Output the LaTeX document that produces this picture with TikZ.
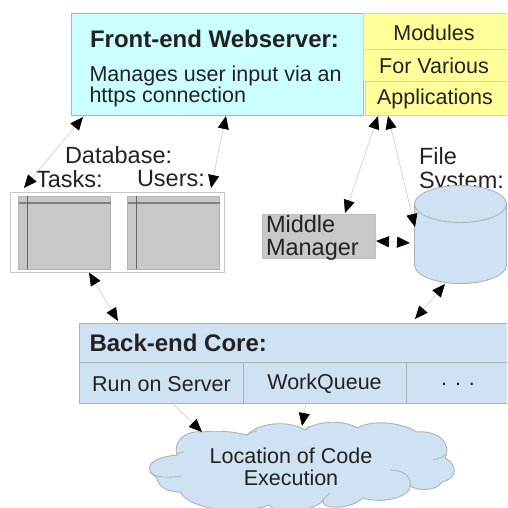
\documentclass[tikz,border=0pt]{standalone}
\usepackage{fontspec}
\setmainfont{Liberation Sans}
\usetikzlibrary{arrows.meta}
\definecolor{frontfill}{HTML}{CCFFFF}
\definecolor{modfill}{HTML}{FFFF99}
\definecolor{bluefill}{HTML}{CFE2F3}
\definecolor{greyfill}{HTML}{C8C8C8}
\definecolor{edgeg}{HTML}{A9B4B8}
\definecolor{txt}{HTML}{222222}
\tikzset{
  box/.style={draw=edgeg,line width=0.9pt,inner sep=0pt,outer sep=0pt,anchor=north west},
  lbl/.style={inner sep=0pt,outer sep=0pt,text=txt,font=\fontsize{23.5}{27}\selectfont},
  mid/.style={lbl,font=\fontsize{21.5}{25}\selectfont},
  bold/.style={lbl,anchor=west,font=\fontsize{24}{27}\selectfont\bfseries},
  link/.style={draw=black!18,line width=0.7pt,{Triangle[black,length=13pt,width=11pt]}-{Triangle[black,length=13pt,width=11pt]}},
  linkone/.style={draw=black!18,line width=0.7pt,-{Triangle[black,length=13pt,width=11pt]}},
}
\newcommand{\rectnode}[6]{% name, style, x, y, w, h
  \node[box,#2,minimum width=#5pt,minimum height=#6pt] (#1) at (#3,#4) {};}
\begin{document}
\begin{tikzpicture}[x=1pt,y=-1pt]
\useasboundingbox (0,0) rectangle (507,508);
\clip (0,0) rectangle (507,508);
% Front end
\rectnode{front}{fill=frontfill}{71.5}{13}{291.5}{102}
\rectnode{modA}{fill=modfill,draw=modfill!70!gray}{363}{13}{146}{36}
\rectnode{modB}{fill=modfill,draw=modfill!70!gray}{363}{49}{146}{32}
\rectnode{modC}{fill=modfill,draw=modfill!70!gray}{365}{81}{144}{34}
\node[bold] (fronttitle) at (90,39) {Front-end Webserver:};
\node[mid,anchor=west] (frontA) at (89.5,76) {Manages user input via an};
\node[mid,anchor=west] (frontB) at (89.5,97) {https connection};
\node[mid] (modAt) at (434,32.5) {Modules};
\node[mid] (modBt) at (434,66) {For Various};
\node[mid] (modCt) at (435,99) {Applications};
% Database
\node[lbl,anchor=west] (dbt) at (65,155.5) {Database:};
\node[lbl,anchor=west] (taskt) at (36,179) {Tasks:};
\node[lbl,anchor=west] (usert) at (137,179) {Users:};
\rectnode{db}{draw=black!22,fill=white}{10.5}{192}{214}{80}
\rectnode{tasks}{draw=black!30,fill=greyfill}{18.5}{196}{92}{73}
\rectnode{users}{draw=black!30,fill=greyfill}{127.5}{196}{92}{73}
\draw[black!50,line width=1.2pt] (18.5,203) -- (110.5,203);
\draw[black!60,line width=0.9pt] (27.5,196) -- (27.5,269);
\draw[black!50,line width=1.2pt] (127.5,203) -- (219.5,203);
\draw[black!60,line width=0.9pt] (136.5,196) -- (136.5,269);
% File system
\node[lbl,anchor=west] (fileA) at (419,156.5) {File};
\node[lbl,anchor=west] (fileB) at (419,183) {System:};
\path[fill=bluefill,draw=edgeg,line width=0.9pt]
  (414.5,204) .. controls (414.5,193.8) and (435,185.5) .. (460.5,185.5)
  .. controls (486,185.5) and (506.5,193.8) .. (506.5,204)
  -- (506.5,265) .. controls (506.5,275.2) and (486,283.5) .. (460.5,283.5)
  .. controls (435,283.5) and (414.5,275.2) .. (414.5,265) -- cycle;
\draw[edgeg,line width=0.9pt] (414.5,204) .. controls (414.5,214.2) and (435,222.5) .. (460.5,222.5)
  .. controls (486,222.5) and (506.5,214.2) .. (506.5,204);
\coordinate (cylTopL) at (415,227);
\coordinate (cylL) at (410,243);
\coordinate (cylB) at (445,284);
% Middle Manager
\rectnode{mm}{fill=greyfill,draw=black!25}{262}{214}{113.5}{44}
\node[lbl,anchor=west] (mmA) at (266,224.5) {Middle};
\node[lbl,anchor=west] (mmB) at (266,249.5) {Manager};
% Back-end
\rectnode{core}{fill=bluefill}{79.5}{323}{430}{39}
\rectnode{coreA}{fill=bluefill}{79.5}{362}{163.5}{41}
\rectnode{coreB}{fill=bluefill}{243}{362}{163}{41}
\rectnode{coreC}{fill=bluefill}{406}{362}{103}{41}
\node[bold] (coret) at (89.5,343) {Back-end Core:};
\node[mid] (coreAt) at (161.5,384) {Run on Server};
\node[mid] (coreBt) at (324.5,384) {WorkQueue};
\node[mid] (coreCt) at (458,384) {. . .};
% Cloud
\path[fill=bluefill,draw=edgeg,line width=0.9pt]
  (157,478)
  .. controls (144,470) and (146,458) .. (177,455)
  .. controls (172,438) and (190,430) .. (202,432)
  .. controls (220,430) and (235,432) .. (247,435)
  .. controls (255,425) and (285,418) .. (305,430)
  .. controls (318,420) and (345,420) .. (357,428)
  .. controls (375,418) and (405,424) .. (417,432)
  .. controls (440,430) and (452,445) .. (445,458)
  .. controls (458,465) and (458,478) .. (442,482)
  .. controls (438,490) and (420,492) .. (410,486)
  .. controls (412,495) and (385,505) .. (363,498)
  .. controls (350,510) and (320,510) .. (323,500)
  .. controls (315,512) and (275,516) .. (270,505)
  .. controls (240,515) and (190,510) .. (180,492)
  .. controls (170,492) and (158,488) .. (157,478)
  -- cycle;
\draw[edgeg,line width=0.8pt]
  (149.5,472) .. controls (155,478) and (170,478) .. (182,476)
  (177,455) .. controls (178,453) and (180,452) .. (184,452)
  (247,435) .. controls (249,433) and (252,432) .. (257,431)
  (305,430) .. controls (306,428) and (308,427) .. (309,426)
  (357,428) .. controls (356,427) and (354,426) .. (352,426)
  (433,460) .. controls (438,459) and (442,457) .. (445,455)
  (390,470) .. controls (405,470) and (412,478) .. (410,486)
  (323,500) .. controls (325,497) and (327,495) .. (330,493);
\node[mid] (cloudA) at (291,456) {Location of Code};
\node[mid] (cloudB) at (291,477.5) {Execution};
\coordinate (cloudL) at (202,432);
\coordinate (cloudM) at (302,426);
% Connectors
\coordinate (f1) at (83,117);
\coordinate (d1) at (24,188);
\coordinate (f2) at (226,116);
\coordinate (d2) at (211,188);
\coordinate (d3) at (89,272.5);
\coordinate (c3) at (118,321);
\coordinate (m1) at (378,116);
\coordinate (mt) at (345,213);
\coordinate (m2) at (388,116);
\coordinate (mr) at (376,241);
\coordinate (c7) at (415,319);
\coordinate (s8) at (173,404);
\coordinate (s9) at (306,404);
\draw[link] (f1) -- (d1);
\draw[link] (f2) -- (d2);
\draw[link] (d3) -- (c3);
\draw[link] (m1) -- (mt);
\draw[link] (m2) -- (cylTopL);
\draw[link] (mr) -- (cylL);
\draw[link] (cylB) -- (c7);
\draw[linkone] (s8) -- (cloudL);
\draw[linkone] (s9) -- (cloudM);
\end{tikzpicture}
\end{document}
